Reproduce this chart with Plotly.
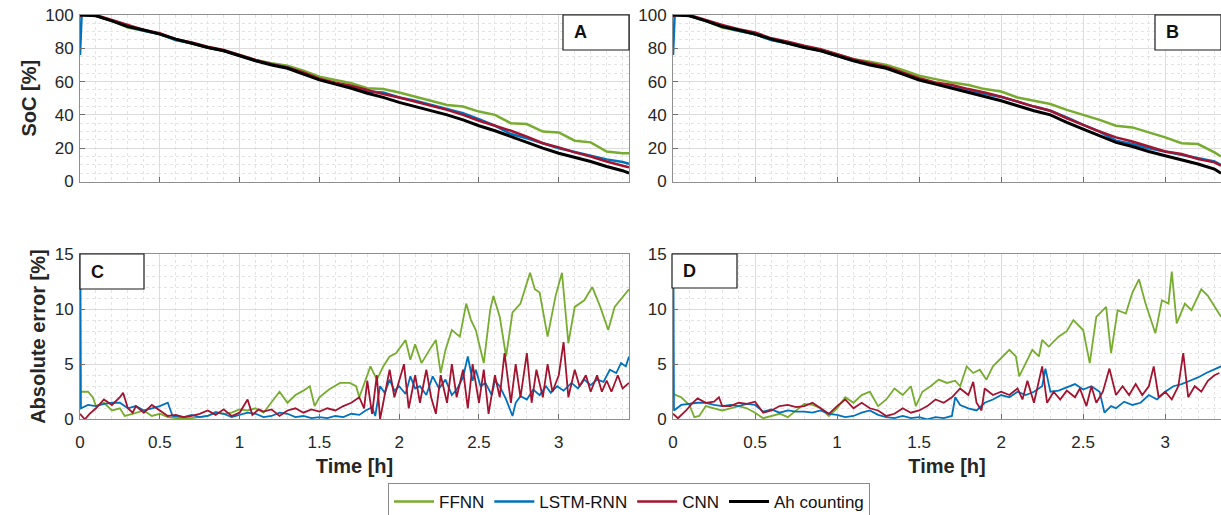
import plotly.graph_objects as go

W, H = 1221, 515

# ---------------- data ----------------
# Panel A (SoC, %) sampled times [h]
soc_t_A = [0, 0.01, 0.1, 0.2, 0.3, 0.4, 0.5, 0.6, 0.7, 0.8, 0.9, 1.0, 1.1, 1.2, 1.3, 1.4,
           1.5, 1.6, 1.7, 1.8, 1.9, 2.0, 2.1, 2.2, 2.3, 2.4, 2.5, 2.6, 2.7, 2.8, 2.9, 3.0,
           3.1, 3.2, 3.3, 3.4, 3.44]
soc_ah_A = [100, 100, 99.5, 96.5, 93, 91, 88.5, 85.5, 83, 80.5, 78.5, 75.5, 72.5, 70, 68, 64.5,
            61, 58.5, 56, 53, 50.5, 47.5, 45, 42.5, 40, 37, 33.5, 30.5, 27, 23.5, 20, 17,
            14.5, 12, 9, 6.5, 5]
soc_ffnn_A = [100, 100, 99.5, 96.5, 92.5, 90.5, 88.5, 85, 83, 80.5, 78.5, 76, 73, 71, 69.5, 66.5,
              63, 61, 59, 56, 55.5, 53.5, 51, 48.8, 46, 45, 42, 40, 35, 34.5, 30, 29.5,
              24.5, 23.5, 18, 17, 17]
soc_lstm_A = [76, 100, 99.5, 96.5, 93, 90.5, 88.5, 85, 83, 80.5, 78.5, 75.5, 72.5, 70.5, 68.5, 65,
              61.3, 58.8, 56.4, 54, 53.5, 50.5, 48.5, 46, 43.5, 41, 37.5, 33.5, 28.5, 26, 23, 20,
              17.8, 15.6, 13.3, 11.7, 10.7]
soc_cnn_A = [99, 100, 100, 97, 94, 91, 89, 85.5, 83.5, 81, 79, 76, 73, 70.5, 68.5, 65.5,
             61.7, 59.3, 57.5, 55, 52.5, 50.5, 48, 45.5, 43, 40, 36.5, 33.5, 30.5, 27, 23, 20.5,
             17.5, 15, 12, 9.5, 8.5]

# Panel B (SoC, %)
soc_t_B = [0, 0.01, 0.1, 0.2, 0.3, 0.4, 0.5, 0.6, 0.7, 0.8, 0.9, 1.0, 1.1, 1.2, 1.3, 1.4,
           1.5, 1.6, 1.7, 1.8, 1.9, 2.0, 2.1, 2.2, 2.3, 2.4, 2.5, 2.6, 2.7, 2.8, 2.9, 3.0,
           3.1, 3.2, 3.3, 3.34]
soc_ah_B = [100, 100, 99.5, 96.5, 93, 91, 88.5, 85.5, 83, 80.5, 78.5, 75.5, 72.5, 70, 68, 64.5,
            61, 58.5, 56, 53.5, 51, 48.5, 45.5, 42.5, 40, 35.5, 31.5, 27.5, 23.5, 21, 18, 15.5,
            13, 10.5, 7.5, 5]
soc_ffnn_B = [100, 100, 99.5, 96.5, 92.5, 90.5, 88.5, 85, 83, 81, 79, 76.5, 73.5, 72, 70, 67,
              63.5, 61.5, 59.5, 58, 55.5, 54, 50.5, 48.5, 46.5, 43, 40, 37, 33.5, 32.5, 29.5, 26.5,
              23, 22.5, 17.5, 15]
soc_lstm_B = [76, 100, 99.5, 96.5, 93, 90.5, 88.5, 85, 83, 80.5, 78.5, 75.5, 72.5, 70.5, 68.5, 65,
              61.5, 59, 56.5, 54.5, 52.5, 50.7, 48, 45, 42.5, 38.5, 34, 30, 24.5, 22.5, 20, 18,
              16.2, 14.3, 12, 10]
soc_cnn_B = [99, 100, 100, 97, 94, 91.5, 89.5, 86, 84, 81.5, 79.5, 76.5, 73.5, 71, 69, 65.5,
             62, 59.5, 58, 55.5, 53.5, 51, 48, 45, 42.5, 38, 34, 30, 26.5, 24, 21, 18,
             16.5, 13.5, 11.5, 9.5]

# Panel C (absolute error, %) as (time [h], value)
err_ffnn_C = [(0, 2.5), (0.05, 2.5), (0.08, 2.0), (0.1, 1.2), (0.15, 1.5), (0.2, 0.8), (0.25, 1.0),
              (0.28, 0.3), (0.33, 0.5), (0.4, 0.8), (0.45, 0.3), (0.5, 0.5), (0.55, 0.2), (0.6, 0.1),
              (0.7, 0.1), (0.8, 0.3), (0.85, 0.7), (0.9, 0.5), (0.95, 0.6), (1.0, 0.9), (1.05, 0.8),
              (1.1, 1.0), (1.15, 0.6), (1.2, 1.5), (1.25, 2.5), (1.3, 1.5), (1.35, 2.2), (1.4, 2.6),
              (1.44, 3.0), (1.47, 1.2), (1.5, 2.0), (1.56, 2.7), (1.63, 3.3), (1.69, 3.3), (1.73, 3.0),
              (1.75, 2.0), (1.82, 4.8), (1.86, 3.6), (1.9, 4.8), (1.94, 5.7), (1.98, 6.0), (2.04, 7.2),
              (2.07, 5.4), (2.1, 6.8), (2.14, 5.1), (2.19, 6.3), (2.23, 7.2), (2.26, 4.2), (2.29, 6.3),
              (2.33, 8.1), (2.38, 7.5), (2.42, 10.5), (2.45, 9.0), (2.48, 8.1), (2.53, 5.1), (2.57, 9.9),
              (2.59, 11.2), (2.63, 9.3), (2.67, 5.7), (2.71, 9.7), (2.76, 10.5), (2.82, 13.3),
              (2.85, 11.8), (2.88, 11.5), (2.93, 7.5), (2.98, 11.2), (3.02, 13.3), (3.06, 6.9),
              (3.1, 10.2), (3.16, 10.8), (3.21, 12.0), (3.26, 10.2), (3.31, 8.1), (3.35, 10.2),
              (3.44, 11.8)]
err_lstm_C = [(0, 24), (0.006, 1.0), (0.05, 1.3), (0.1, 1.2), (0.15, 1.4), (0.2, 1.5), (0.25, 1.5),
              (0.3, 1.0), (0.35, 1.2), (0.4, 0.8), (0.45, 1.0), (0.5, 1.2), (0.55, 1.5), (0.58, 0.3),
              (0.65, 0.2), (0.7, 0.4), (0.75, 0.2), (0.8, 0.3), (0.85, 0.6), (0.9, 0.5), (0.95, 0.2),
              (1.0, 0.4), (1.05, 0.6), (1.1, 0.5), (1.15, 0.2), (1.2, 0.3), (1.25, 0.6), (1.3, 0.5),
              (1.35, 0.2), (1.4, 0.3), (1.45, 0.1), (1.5, 0.2), (1.55, 0.1), (1.6, 0.3), (1.65, 0.2),
              (1.7, 0.5), (1.75, 0.4), (1.79, 0.8), (1.83, 1.1), (1.85, 0.3), (1.88, 3.0), (1.91, 2.4),
              (1.94, 3.6), (1.97, 2.6), (2.0, 3.0), (2.04, 2.3), (2.07, 3.9), (2.1, 2.8), (2.13, 3.0),
              (2.17, 2.2), (2.21, 3.9), (2.25, 2.8), (2.29, 3.6), (2.33, 2.2), (2.36, 2.7), (2.4, 3.8),
              (2.43, 5.7), (2.46, 3.5), (2.48, 4.5), (2.51, 3.0), (2.54, 3.3), (2.58, 2.2), (2.6, 3.5),
              (2.63, 3.0), (2.67, 1.8), (2.71, 0.3), (2.73, 1.5), (2.76, 2.1), (2.8, 1.8), (2.84, 2.7),
              (2.88, 2.2), (2.92, 3.0), (2.95, 2.4), (2.99, 3.0), (3.03, 2.6), (3.08, 3.3), (3.12, 2.8),
              (3.16, 3.6), (3.2, 3.1), (3.24, 3.6), (3.28, 3.4), (3.32, 4.5), (3.36, 4.2), (3.39, 5.1),
              (3.42, 4.8), (3.44, 5.7)]
err_cnn_C = [(0, 0.5), (0.03, 0.0), (0.06, 0.5), (0.1, 1.0), (0.15, 1.8), (0.2, 1.3), (0.25, 2.0),
             (0.27, 2.4), (0.3, 1.0), (0.33, 0.6), (0.35, 1.2), (0.4, 0.6), (0.45, 1.3), (0.5, 0.8),
             (0.55, 0.3), (0.6, 0.4), (0.65, 0.2), (0.7, 0.3), (0.75, 0.5), (0.8, 0.8), (0.85, 0.4),
             (0.9, 0.9), (0.95, 0.3), (1.0, 0.6), (1.05, 1.8), (1.08, 0.4), (1.12, 0.9), (1.15, 0.7),
             (1.2, 0.9), (1.25, 0.3), (1.3, 0.8), (1.35, 1.0), (1.4, 0.6), (1.45, 0.9), (1.5, 0.7),
             (1.55, 1.0), (1.6, 0.8), (1.65, 1.2), (1.7, 1.5), (1.75, 2.0), (1.78, 1.0), (1.8, 3.5),
             (1.83, 0.5), (1.86, 4.0), (1.88, 0.0), (1.9, 1.5), (1.94, 4.5), (1.97, 2.0), (2.0, 3.5),
             (2.03, 5.0), (2.06, 1.0), (2.1, 4.0), (2.13, 1.5), (2.17, 4.5), (2.2, 2.0), (2.23, 0.5),
             (2.26, 4.0), (2.3, 1.5), (2.33, 5.0), (2.36, 2.0), (2.4, 4.5), (2.43, 1.0), (2.46, 5.0),
             (2.5, 1.5), (2.53, 4.5), (2.56, 0.5), (2.6, 4.0), (2.63, 2.0), (2.66, 6.0), (2.7, 1.5),
             (2.73, 5.0), (2.76, 2.0), (2.8, 6.0), (2.83, 1.5), (2.86, 4.5), (2.9, 2.0), (2.93, 5.0),
             (2.96, 2.5), (3.0, 4.0), (3.03, 7.0), (3.06, 2.0), (3.1, 4.5), (3.13, 3.0), (3.17, 4.0),
             (3.2, 2.5), (3.24, 4.0), (3.27, 2.5), (3.3, 3.5), (3.33, 2.5), (3.37, 4.0), (3.4, 2.8),
             (3.44, 3.3)]

# Panel D (absolute error, %)
err_ffnn_D = [(0, 2.3), (0.05, 2.0), (0.1, 1.3), (0.13, 0.2), (0.16, 0.3), (0.2, 1.2), (0.25, 1.0),
              (0.3, 0.8), (0.35, 1.0), (0.4, 1.2), (0.45, 1.0), (0.5, 0.6), (0.55, 0.1), (0.6, 0.3),
              (0.65, 0.5), (0.7, 0.2), (0.75, 0.8), (0.8, 1.4), (0.85, 1.3), (0.9, 1.0), (0.95, 0.3),
              (1.0, 1.0), (1.05, 2.0), (1.1, 1.5), (1.15, 2.2), (1.2, 2.5), (1.25, 1.2), (1.3, 1.8),
              (1.35, 2.8), (1.4, 2.2), (1.45, 3.0), (1.48, 1.2), (1.52, 2.5), (1.57, 3.0), (1.62, 3.6),
              (1.67, 3.3), (1.72, 3.5), (1.75, 3.0), (1.79, 4.8), (1.83, 4.2), (1.87, 4.5), (1.91, 3.6),
              (1.95, 4.8), (2.01, 5.7), (2.05, 6.3), (2.09, 5.7), (2.11, 3.9), (2.15, 5.1), (2.19, 6.3),
              (2.23, 5.7), (2.25, 7.2), (2.29, 6.6), (2.35, 7.5), (2.4, 8.0), (2.44, 9.0), (2.5, 8.1),
              (2.54, 5.1), (2.58, 9.3), (2.64, 10.2), (2.67, 6.0), (2.71, 9.9), (2.76, 9.6), (2.8, 11.5),
              (2.84, 12.7), (2.88, 10.5), (2.94, 7.8), (2.98, 10.8), (3.02, 10.5), (3.04, 13.4),
              (3.07, 8.7), (3.12, 10.5), (3.16, 9.9), (3.22, 11.8), (3.26, 11.2), (3.3, 10.2),
              (3.34, 9.3)]
err_lstm_D = [(0, 24), (0.006, 0.8), (0.05, 1.3), (0.1, 1.4), (0.15, 1.5), (0.2, 1.5), (0.25, 1.3),
              (0.3, 1.2), (0.35, 1.3), (0.4, 1.2), (0.45, 1.4), (0.5, 1.3), (0.55, 0.7), (0.6, 0.9),
              (0.65, 0.6), (0.7, 0.8), (0.75, 0.7), (0.8, 0.7), (0.85, 0.6), (0.9, 0.8), (0.95, 0.5),
              (1.0, 0.4), (1.05, 0.2), (1.1, 0.3), (1.15, 0.6), (1.2, 0.8), (1.25, 0.4), (1.3, 0.2),
              (1.35, 0.1), (1.4, 0.3), (1.45, 0.1), (1.5, 0.2), (1.55, 0.0), (1.6, 0.2), (1.65, 0.1),
              (1.7, 0.3), (1.72, 2.0), (1.75, 1.3), (1.8, 1.0), (1.85, 0.8), (1.9, 1.5), (1.95, 1.8),
              (2.0, 2.2), (2.05, 2.0), (2.1, 2.5), (2.15, 2.2), (2.2, 2.5), (2.25, 3.0), (2.27, 4.6),
              (2.3, 2.5), (2.35, 2.6), (2.4, 2.9), (2.45, 3.2), (2.5, 2.7), (2.55, 3.0), (2.6, 2.5),
              (2.63, 0.6), (2.67, 1.2), (2.7, 1.0), (2.75, 1.6), (2.8, 1.3), (2.85, 1.5), (2.9, 2.2),
              (2.95, 1.8), (3.0, 2.5), (3.05, 3.0), (3.1, 3.2), (3.15, 3.5), (3.2, 3.8), (3.25, 4.2),
              (3.3, 4.5), (3.34, 4.8)]
err_cnn_D = [(0, 0.5), (0.03, 0.1), (0.08, 0.8), (0.12, 1.5), (0.15, 1.9), (0.2, 1.5), (0.25, 1.6),
             (0.28, 2.0), (0.3, 1.2), (0.35, 1.2), (0.4, 1.5), (0.45, 1.4), (0.5, 1.6), (0.55, 0.6),
             (0.6, 0.8), (0.65, 1.2), (0.7, 1.3), (0.75, 1.1), (0.8, 1.2), (0.85, 1.5), (0.9, 1.0),
             (0.95, 0.5), (1.0, 1.2), (1.05, 1.8), (1.1, 1.0), (1.15, 1.5), (1.2, 1.0), (1.25, 0.8),
             (1.3, 0.3), (1.35, 0.5), (1.4, 1.0), (1.45, 0.6), (1.5, 0.8), (1.55, 1.2), (1.6, 1.8),
             (1.65, 1.5), (1.7, 2.0), (1.75, 2.8), (1.8, 2.2), (1.83, 3.4), (1.85, 1.5), (1.88, 0.8),
             (1.9, 2.8), (1.95, 2.2), (2.0, 2.5), (2.05, 2.2), (2.1, 2.8), (2.13, 1.8), (2.16, 3.5),
             (2.2, 1.5), (2.25, 4.8), (2.28, 1.5), (2.32, 2.5), (2.36, 1.8), (2.4, 2.6), (2.45, 2.0),
             (2.48, 2.8), (2.52, 1.2), (2.55, 3.0), (2.58, 1.5), (2.62, 2.5), (2.66, 4.6), (2.7, 2.2),
             (2.74, 3.0), (2.78, 2.2), (2.82, 3.2), (2.86, 2.2), (2.9, 3.0), (2.93, 4.8), (2.96, 2.0),
             (3.0, 2.5), (3.04, 1.8), (3.08, 3.0), (3.11, 6.0), (3.14, 2.0), (3.18, 3.0), (3.22, 2.5),
             (3.26, 3.5), (3.3, 4.0), (3.33, 4.2)]

series_names = ["FFNN", "LSTM-RNN", "CNN", "Ah counting"]
colors = {"FFNN": "#77AC30", "LSTM-RNN": "#0072BD", "CNN": "#A2142F", "Ah counting": "#000000"}
panel_labels = ["A", "B", "C", "D"]
x_ticks = [0, 0.5, 1, 1.5, 2, 2.5, 3]

# ---------------- figure ----------------
FONT = "Liberation Sans, Arial, sans-serif"
TXT = "#262626"

def px_x(p):
    return p / W

def px_y(p):
    return 1 - p / H

fig = go.Figure()

soc_sets = [
    ("x", "y", soc_t_A, [("FFNN", soc_ffnn_A), ("LSTM-RNN", soc_lstm_A), ("CNN", soc_cnn_A), ("Ah counting", soc_ah_A)]),
    ("x2", "y2", soc_t_B, [("FFNN", soc_ffnn_B), ("LSTM-RNN", soc_lstm_B), ("CNN", soc_cnn_B), ("Ah counting", soc_ah_B)]),
]
for i, (xa, ya, tt, lst) in enumerate(soc_sets):
    for name, vals in lst:
        fig.add_trace(go.Scatter(
            x=tt, y=vals, mode="lines", name=name, xaxis=xa, yaxis=ya,
            line=dict(color=colors[name], width=3 if name == "Ah counting" else 2.5),
            showlegend=(i == 0),
        ))

err_sets = [
    ("x3", "y3", [("FFNN", err_ffnn_C), ("LSTM-RNN", err_lstm_C), ("CNN", err_cnn_C)]),
    ("x4", "y4", [("FFNN", err_ffnn_D), ("LSTM-RNN", err_lstm_D), ("CNN", err_cnn_D)]),
]
for xa, ya, lst in err_sets:
    for name, pairs in lst:
        fig.add_trace(go.Scatter(
            x=[p[0] for p in pairs], y=[p[1] for p in pairs], mode="lines", name=name,
            xaxis=xa, yaxis=ya, line=dict(color=colors[name], width=1.8), showlegend=False,
        ))

# domains (pixels)
dom_x_left = [px_x(80), px_x(629)]
dom_x_right = [px_x(673), 1.0]
dom_y_top = [px_y(181.5), px_y(15)]
dom_y_bot = [px_y(419.3), px_y(254)]

grid = "#dcdcdc"
minor_grid = "#e4e4e4"
axcol = "#8f8f8f"

def xax(domain, anchor, rng, labels):
    return dict(domain=domain, anchor=anchor, range=rng, tickvals=x_ticks, automargin=False,
                showticklabels=labels, ticks="inside", ticklen=5, tickcolor="#6e6e6e",
                ticklabelstandoff=7,
                showgrid=True, gridcolor=grid, gridwidth=1,
                minor=dict(dtick=0.1, showgrid=True, gridcolor=minor_grid, griddash="dot", ticks=""),
                showline=True, linecolor=axcol, linewidth=1, mirror=True, zeroline=False,
                tickfont=dict(size=17, color=TXT, family=FONT))

def yax(domain, anchor, rng, dtick, mdtick, title):
    d = dict(domain=domain, anchor=anchor, range=rng, dtick=dtick, tick0=0, automargin=False,
             ticks="inside", ticklen=5, tickcolor="#6e6e6e", ticklabelstandoff=2,
             showgrid=True, gridcolor=grid, gridwidth=1,
             minor=dict(dtick=mdtick, showgrid=True, gridcolor=minor_grid, griddash="dot", ticks=""),
             showline=True, linecolor=axcol, linewidth=1, mirror=True, zeroline=False,
             tickfont=dict(size=17, color=TXT, family=FONT))
    if title:
        d["title"] = dict(text=title, font=dict(size=20, color=TXT, family=FONT), standoff=3)
    return d

fig.update_layout(
    template="none",
    xaxis=xax(dom_x_left, "y", [0, 3.44], False),
    xaxis2=xax(dom_x_right, "y2", [0, 3.34], False),
    xaxis3=xax(dom_x_left, "y3", [0, 3.44], True),
    xaxis4=xax(dom_x_right, "y4", [0, 3.34], True),
    yaxis=yax(dom_y_top, "x", [0, 100], 20, 5, "<b>SoC [%]</b>"),
    yaxis2=yax(dom_y_top, "x2", [0, 100], 20, 5, None),
    yaxis3=yax(dom_y_bot, "x3", [0, 15], 5, 1, "<b>Absolute error [%]</b>"),
    yaxis4=yax(dom_y_bot, "x4", [0, 15], 5, 1, None),
)
fig.update_layout(
    xaxis3_title=dict(text="<b>Time [h]</b>", font=dict(size=20, color=TXT, family=FONT), standoff=8),
    xaxis4_title=dict(text="<b>Time [h]</b>", font=dict(size=20, color=TXT, family=FONT), standoff=8),
)

# panel label boxes
boxes = [(563, 629, 15, 50), (1155, 1221, 15, 50), (80, 144, 254, 289), (672, 737, 254, 288)]
for lab, (x0, x1, y0, y1) in zip(panel_labels, boxes):
    fig.add_shape(type="rect", xref="paper", yref="paper",
                  x0=px_x(x0), x1=px_x(x1), y0=px_y(y1), y1=px_y(y0),
                  fillcolor="white", line=dict(color="#1a1a1a", width=1.2), layer="above")
    fig.add_annotation(xref="paper", yref="paper", x=px_x(x0 + 9), y=px_y((y0 + y1) / 2),
                       xanchor="left", yanchor="middle", text=f"<b>{lab}</b>", showarrow=False,
                       font=dict(size=18, color="#111111", family=FONT))

fig.update_layout(
    width=W, height=H, margin=dict(l=0, r=0, t=0, b=0, autoexpand=False),
    paper_bgcolor="white", plot_bgcolor="white",
    font=dict(family=FONT, color=TXT),
    showlegend=True,
    legend=dict(orientation="h", x=px_x(629), xanchor="center", y=px_y(483), yanchor="top",
                bordercolor="#8a8a8a", borderwidth=1, bgcolor="white",
                font=dict(size=17, color="#111111", family=FONT),
                itemwidth=40, tracegroupgap=0),
)

fig.write_html("out.html", config={"displayModeBar": False},
               post_script="document.body.style.margin='0';document.body.style.overflow='hidden';")
